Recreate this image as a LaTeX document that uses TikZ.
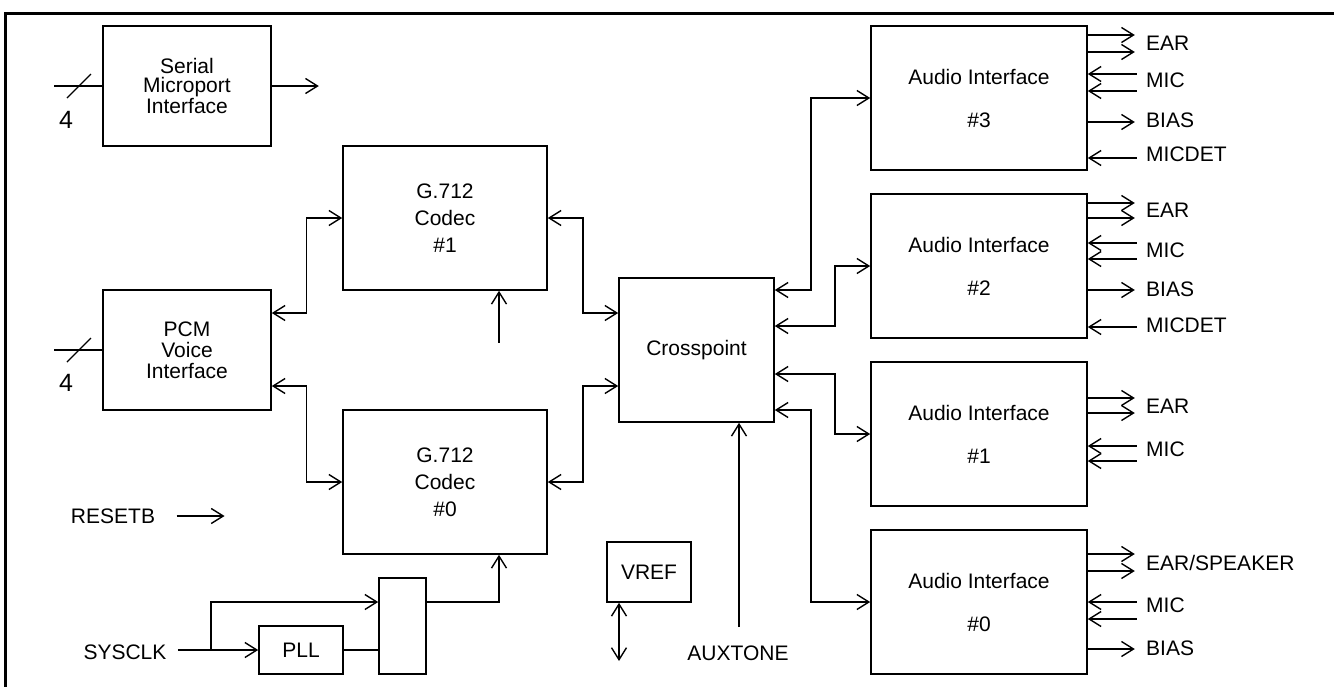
\documentclass[tikz,border=0pt]{standalone}
\usepackage{fontspec}
\setmainfont{Liberation Sans}
\usetikzlibrary{arrows.meta}

\begin{document}
\begin{tikzpicture}[x=1pt, y=-1pt, font=\fontsize{21}{25}\selectfont,
    >={Straight Barb[length=12pt, width=15pt]},
    blk/.style={draw, line width=1.6pt, inner sep=0pt, align=center},
    wire/.style={line width=1.4pt},
    lbl/.style={anchor=west, inner sep=0pt}]
    \useasboundingbox (0,0) rectangle (1334,686);
    % frame
    \draw[line width=3pt] (5.5,700) -- (5.5,13) -- (1340,13);

    % blocks
    \node[blk, minimum width=168pt, minimum height=120pt, font=\fontsize{21}{18.5}\selectfont]
      (smi) at (187,86) {Serial\\Microport\\Interface};
    \node[blk, minimum width=168pt, minimum height=120pt, font=\fontsize{21}{21}\selectfont]
      (pcm) at (187,350) {PCM\\Voice\\Interface};
    \node[blk, minimum width=204pt, minimum height=144pt, font=\fontsize{21}{27}\selectfont]
      (c1) at (445,218) {G.712\\Codec\\\#1};
    \node[blk, minimum width=204pt, minimum height=144pt, font=\fontsize{21}{27}\selectfont]
      (c0) at (445,482) {G.712\\Codec\\\#0};
    \node[blk, minimum width=155pt, minimum height=144pt] (xp) at (696.5,350) {Crosspoint};
    \foreach \n/\y in {3/98, 2/266, 1/434, 0/602} {
      \node[blk, minimum width=216pt, minimum height=144pt, font=\fontsize{21}{43}\selectfont]
        (a\n) at (979,\y) {Audio Interface\\\#\n};
    }
    \node[blk, minimum width=84pt, minimum height=48pt] (pll) at (301,650) {PLL};
    \node[blk, minimum width=47pt, minimum height=96pt] (mux) at (402.5,626) {};
    \node[blk, minimum width=84pt, minimum height=60pt] (vref) at (649,572) {VREF};

    % serial and pcm buses
    \coordinate (smiin) at (54,86);
    \coordinate (pcmin) at (54,350);
    \draw[wire] (smiin) -- (smi.west);
    \draw[wire] (67,98) -- (91,74);
    \node[font=\fontsize{25}{30}\selectfont] (smiw) at (66,120) {4};
    \draw[wire] (pcmin) -- (pcm.west);
    \draw[wire] (67,362) -- (91,338);
    \node[font=\fontsize{25}{30}\selectfont] (pcmw) at (66,383) {4};
    \draw[wire, ->] (smi.east) -- ++(47,0);

    % codec links
    \draw[wire, <->] (pcm.east |- 0,313) -| ([xshift=-36pt]c1.west) -- (c1.west);
    \draw[wire, <->] (pcm.east |- 0,386) -| ([xshift=-36pt]c0.west) -- (c0.west);
    \draw[wire, <->] (c1.east) -| (583,313) -- (xp.west |- 0,313);
    \draw[wire, <->] (c0.east) -| (583,386) -- (xp.west |- 0,386);
    \draw[wire, ->] ([xshift=54pt, yshift=-52pt]c1.south) -- ([xshift=54pt]c1.south);

    % crosspoint to audio
    \draw[wire, <->] (xp.east |- 0,290) -| (811,98) -- (a3.west);
    \draw[wire, <->] (xp.east |- 0,326) -| (835,266) -- (a2.west);
    \draw[wire, <->] (xp.east |- 0,374) -| (835,434) -- (a1.west);
    \draw[wire, <->] (xp.east |- 0,410) -| (811,602) -- (a0.west);

    % audio pins
    \foreach \b/\y in {a3/35, a3/52, a3/122, a2/203, a2/218, a2/290,
                       a1/398, a1/413, a0/554, a0/571, a0/649}
      \draw[wire, ->] (\b.east |- 0,\y) -- ++(47,0);
    \foreach \b/\y in {a3/74, a3/91, a3/158, a2/243, a2/259, a2/327,
                       a1/446, a1/461, a0/602, a0/619}
      \draw[wire, <-] (\b.east |- 0,\y) -- ++(49,0);
    \foreach \n/\y/\t in {e3/43/EAR, m3/80/MIC, b3/120/BIAS, d3/154/MICDET,
                          e2/210/EAR, m2/250/MIC, b2/289/BIAS, d2/325/MICDET,
                          e1/406/EAR, m1/449/MIC, m0/605/MIC, b0/648/BIAS}
      \node[lbl] (\n) at (1146,\y) {\t};
    \node[lbl] (e0) at (1146,563) {EAR/SPEAKER};

    % clocks, reset, references
    \node (rst) at (113,516) {RESETB};
    \draw[wire, ->] ([xshift=18pt]rst.east) -- ++(48,0);
    \node (clk) at (125,652) {SYSCLK};
    \coordinate (clkbr) at (211,650);
    \draw[wire, ->] ([xshift=8pt]clk.east |- pll.west) -- (pll.west);
    \draw[wire, ->] (clkbr) |- (mux.west |- 0,602);
    \draw[wire] (pll.east) -- (pll.east -| mux.west);
    \draw[wire, ->] (mux.east |- 0,602) -| ([xshift=54pt]c0.south);
    \coordinate (vrefend) at (619,661);
    \draw[wire, <->] (vrefend |- vref.south) -- (vrefend);
    \node (aux) at (738,653) {AUXTONE};
    \coordinate (auxend) at (739,627);
    \draw[wire, ->] (auxend) -- (auxend |- xp.south);
\end{tikzpicture}
\end{document}
